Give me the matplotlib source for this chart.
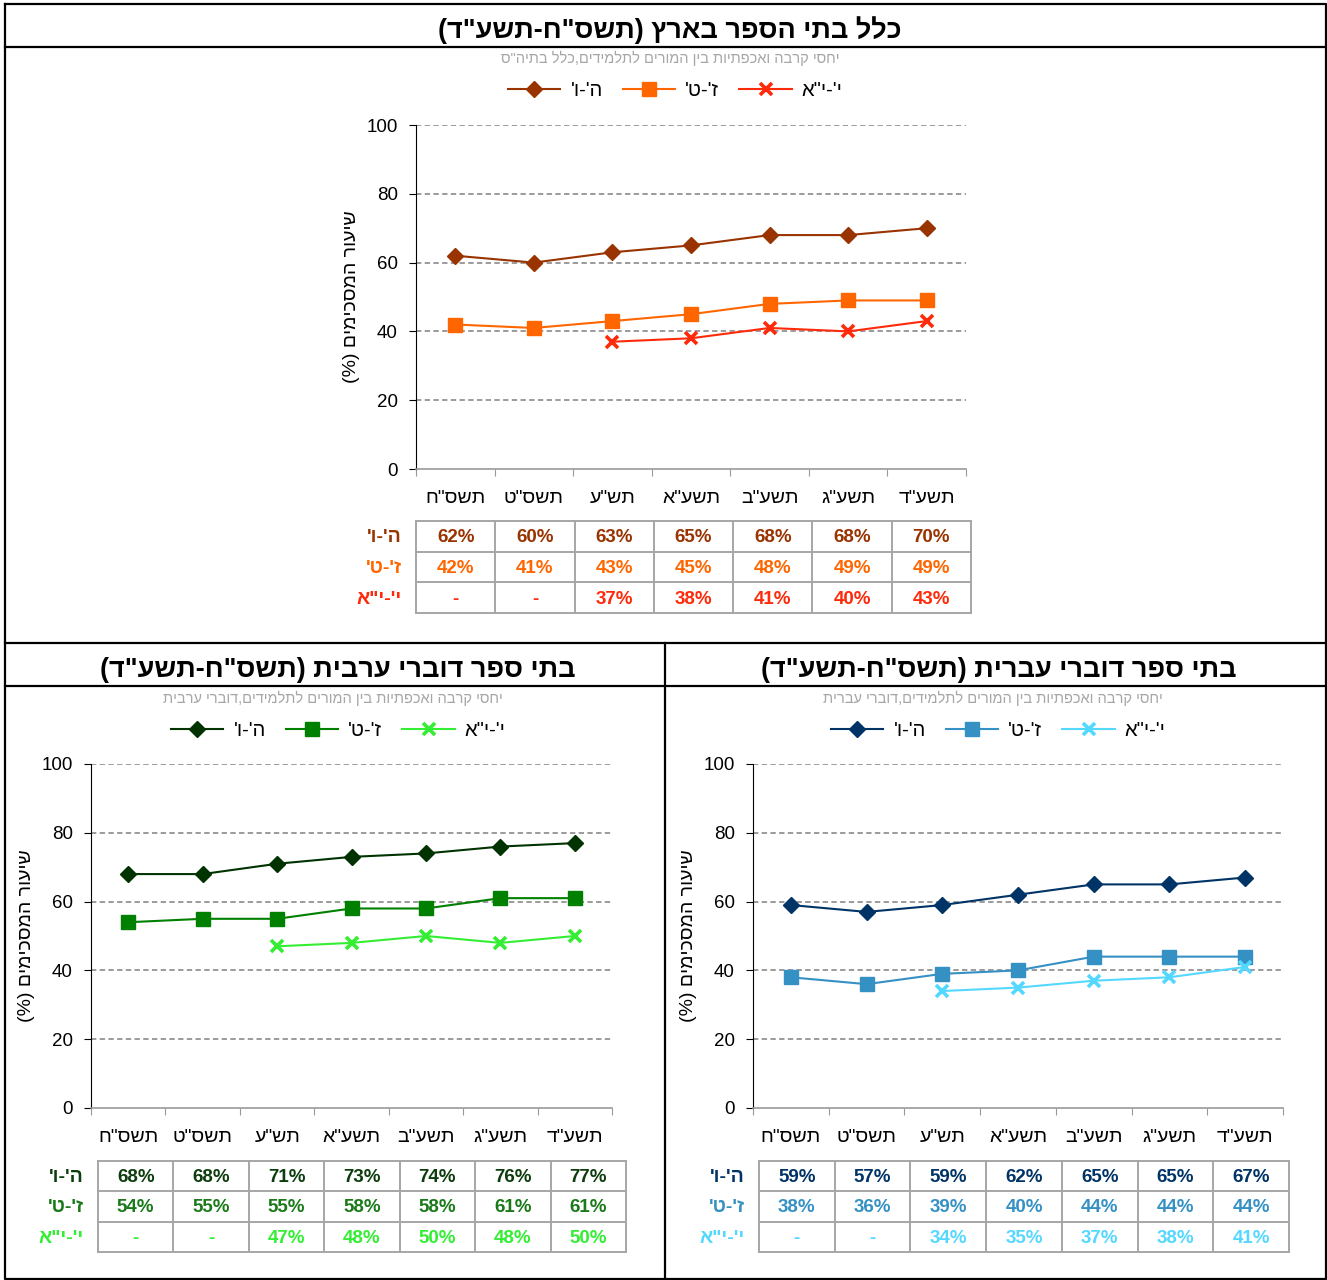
import numpy as np
import matplotlib
matplotlib.use('Agg')
import matplotlib.pyplot as plt
from matplotlib.lines import Line2D

plt.rcParams['font.family'] = ['Liberation Sans', 'DejaVu Sans']

# -- data --
years = ['תשס"ח', 'תשס"ט', 'תש"ע', 'תשע"א', 'תשע"ב', 'תשע"ג', 'תשע"ד']
grades = ["ה'-ו'", "ז'-ט'", 'י\'-י"א']

all_56 = [62, 60, 63, 65, 68, 68, 70]
all_79 = [42, 41, 43, 45, 48, 49, 49]
all_1011 = [np.nan, np.nan, 37, 38, 41, 40, 43]

arab_56 = [68, 68, 71, 73, 74, 76, 77]
arab_79 = [54, 55, 55, 58, 58, 61, 61]
arab_1011 = [np.nan, np.nan, 47, 48, 50, 48, 50]

heb_56 = [59, 57, 59, 62, 65, 65, 67]
heb_79 = [38, 36, 39, 40, 44, 44, 44]
heb_1011 = [np.nan, np.nan, 34, 35, 37, 38, 41]

W, H = 1327, 1280
fig = plt.figure(figsize=(W / 100, H / 100), dpi=100)

# overlay axes in pixel coords for frame + tables
bg = fig.add_axes([0, 0, 1, 1])
bg.set_xlim(0, W)
bg.set_ylim(H, 0)
bg.axis('off')


def rtl(s):
    # matplotlib has no bidi, so flip hebrew into visual order
    return s[::-1].translate(str.maketrans('()', ')('))


markers = ['D', 's', 'x']
msizes = [8.5, 10, 9]


def panel(rect, tbl, title, sub, series, colors, tcolors):
    ax = fig.add_axes([rect[0] / W, 1 - rect[3] / H, (rect[2] - rect[0]) / W, (rect[3] - rect[1]) / H])
    ax.set_facecolor('none')
    x = np.arange(7) + 0.5
    for i, vals in enumerate(series):
        ax.plot(x, vals, color=colors[i], lw=1.5, marker=markers[i], ms=msizes[i],
                mew=2.6 if markers[i] == 'x' else 1, mec=colors[i], mfc=colors[i])
    ax.set_xlim(0, 7)
    ax.set_ylim(0, 100)
    ax.set_yticks(range(0, 101, 20))
    for yv in range(20, 101, 20):
        ax.axhline(yv, color='#808080', lw=1.1, ls=(0, (3.5, 2.2)), zorder=0)
    ax.set_xticks(range(8))
    ax.set_xticklabels([])
    ax.set_xticks(x, minor=True)
    ax.set_xticklabels([rtl(y) for y in years], minor=True, fontsize=14)
    ax.tick_params(axis='x', which='minor', length=0, pad=15)
    ax.tick_params(axis='x', which='major', length=5, color='#999999')
    ax.tick_params(axis='y', length=5, labelsize=13.5, pad=8)
    ax.spines['top'].set_visible(False)
    ax.spines['right'].set_visible(False)
    ax.spines['bottom'].set_color('#999999')
    ax.spines['bottom'].set_linewidth(1.2)
    ax.set_ylabel(rtl('שיעור המסכימים (%)'), fontsize=14, labelpad=5)

    # title, subtitle, legend
    bg.text(title[1], title[2], rtl(title[0]), ha='center', va='center', fontsize=19.5, fontweight='bold')
    bg.text(sub[1], sub[2], rtl(sub[0]), ha='center', va='center', fontsize=10.5, color='#a6a6a6')
    handles = [Line2D([], [], color=colors[i], lw=1.5, marker=markers[i], ms=msizes[i],
                      mew=2.6 if markers[i] == 'x' else 1, mec=colors[i], mfc=colors[i])
               for i in range(3)]
    ax.legend(handles, [rtl(g) for g in grades], ncol=3, frameon=False, fontsize=14.5,
              loc='center', bbox_to_anchor=(sub[1] / W + 0.004, 1 - (sub[2] + 33) / H),
              bbox_transform=fig.transFigure, handlelength=2.6, handletextpad=0.5,
              columnspacing=1.0)

    # table
    x0, x1, y0, y1 = tbl
    cw = (x1 - x0) / 7
    rh = (y1 - y0) / 3
    for k in range(8):
        bg.plot([x0 + k * cw] * 2, [y0, y1], color='#a6a6a6', lw=1.4)
    for r in range(4):
        bg.plot([x0, x1], [y0 + r * rh] * 2, color='#a6a6a6', lw=1.4)
    for r, vals in enumerate(series):
        yc = y0 + (r + 0.5) * rh + 1.5
        bg.text(x0 - 14, yc, rtl(grades[r]), ha='right', va='center', fontsize=14,
                fontweight='bold', color=tcolors[r])
        for c, v in enumerate(vals):
            s = '-' if np.isnan(v) else '%d%%' % v
            bg.text(x0 + (c + 0.5) * cw, yc, s, ha='center', va='center', fontsize=13.5,
                    fontweight='bold', color=tcolors[r])
    return ax


panel((416, 125, 966, 469), (416, 971, 521, 613),
      ('כלל בתי הספר בארץ (תשס"ח-תשע"ד)', 670, 30),
      ('יחסי קרבה ואכפתיות בין המורים לתלמידים,כלל בתיה"ס', 670, 58),
      [all_56, all_79, all_1011],
      ['#993300', '#ff6600', '#ff2a0a'], ['#993300', '#ff6600', '#ff2a0a'])

panel((91, 764, 612, 1108), (98, 626, 1161, 1252),
      ('בתי ספר דוברי ערבית (תשס"ח-תשע"ד)', 338, 670),
      ('יחסי קרבה ואכפתיות בין המורים לתלמידים,דוברי ערבית', 333, 698),
      [arab_56, arab_79, arab_1011],
      ['#003300', '#008000', '#33ee33'], ['#0d3d0d', '#1a7a1a', '#33ee33'])

panel((753, 764, 1283, 1108), (759, 1289, 1161, 1252),
      ('בתי ספר דוברי עברית (תשס"ח-תשע"ד)', 999, 670),
      ('יחסי קרבה ואכפתיות בין המורים לתלמידים,דוברי עברית', 993, 698),
      [heb_56, heb_79, heb_1011],
      ['#003366', '#3591c4', '#55d8ff'], ['#003366', '#3591c4', '#55d8ff'])

# frame lines
lw = 1.6
bg.plot([5, 1326, 1326, 5, 5], [4, 4, 1279, 1279, 4], color='black', lw=lw)
bg.plot([5, 1326], [47, 47], color='black', lw=lw)
bg.plot([5, 1326], [643, 643], color='black', lw=lw)
bg.plot([5, 1326], [686, 686], color='black', lw=lw)
bg.plot([665, 665], [643, 1279], color='black', lw=lw)

fig.savefig('out.png', dpi=100)
